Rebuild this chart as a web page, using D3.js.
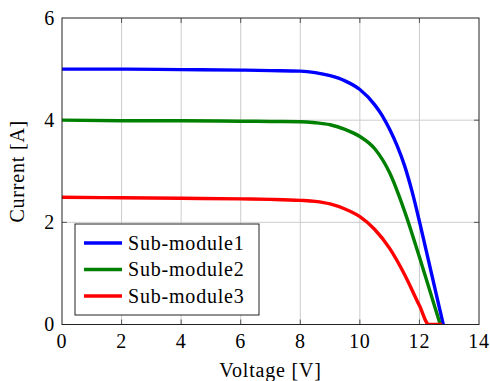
<!DOCTYPE html>
<html>
<head>
<meta charset="utf-8">
<script src="https://cdn.jsdelivr.net/npm/d3@7"></script>
<style>
  html, body { margin: 0; padding: 0; background: #fff; }
  svg { display: block; }
</style>
</head>
<body>
<svg id="chart" width="490" height="381"></svg>
<script>
// I-V curves of three sub-modules
const seriesNames = ["Sub-module1", "Sub-module2", "Sub-module3"];
const seriesColors = ["#0000ff", "#008000", "#ff0000"];

const voltage1 = [0, 2, 4, 6, 7, 8, 8.5, 9, 9.5, 10, 10.5, 10.75, 11, 11.25, 11.5, 11.75, 12, 12.4, 12.8];
const current1 = [5.00, 5.00, 4.99, 4.98, 4.97, 4.96, 4.93, 4.87, 4.77, 4.60, 4.30, 4.09, 3.82, 3.50, 3.11, 2.61, 2.02, 1.01, 0];

const voltage2 = [0, 2, 4, 6, 7, 8, 8.5, 9, 9.5, 10, 10.5, 11, 11.5, 12, 12.35, 12.7];
const current2 = [4.00, 3.99, 3.99, 3.98, 3.975, 3.97, 3.95, 3.91, 3.82, 3.68, 3.44, 2.97, 2.22, 1.32, 0.66, 0];

const voltage3 = [0, 2, 4, 6, 7, 8, 8.5, 9, 9.5, 10, 10.5, 11, 11.5, 12, 12.32, 12.76];
const current3 = [2.49, 2.48, 2.47, 2.46, 2.45, 2.43, 2.41, 2.36, 2.26, 2.11, 1.86, 1.49, 0.98, 0.37, 0, 0];

const xTicks = [0, 2, 4, 6, 8, 10, 12, 14];
const yTicks = [0, 2, 4, 6];

const series = [
  { name: seriesNames[0], color: seriesColors[0], v: voltage1, i: current1 },
  { name: seriesNames[1], color: seriesColors[1], v: voltage2, i: current2 },
  { name: seriesNames[2], color: seriesColors[2], v: voltage3, i: current3 }
];

const FONT = "'Liberation Serif', 'Times New Roman', Tinos, 'DejaVu Serif', serif";

const svg = d3.select("#chart")
  .attr("font-family", FONT)
  .style("font-family", FONT)
  .style("letter-spacing", "0.8px");
const margin = { left: 62, top: 18, right: 11, bottom: 56.5 };
const W = 490, H = 381;
const x = d3.scaleLinear().domain([0, 14]).range([margin.left, W - margin.right]);
const y = d3.scaleLinear().domain([0, 6]).range([H - margin.bottom, margin.top]);

const x0 = x.range()[0], x1 = x.range()[1];
const y0 = y.range()[0], y1 = y.range()[1];

// grid
const grid = svg.append("g");
grid.selectAll(".gx").data(xTicks.slice(1, -1)).join("line")
  .attr("x1", d => x(d)).attr("x2", d => x(d))
  .attr("y1", y1).attr("y2", y0)
  .attr("stroke", "#cccccc").attr("stroke-width", 1);
grid.selectAll(".gy").data(yTicks.slice(1, -1)).join("line")
  .attr("x1", x0).attr("x2", x1)
  .attr("y1", d => y(d)).attr("y2", d => y(d))
  .attr("stroke", "#cccccc").attr("stroke-width", 1);

// inward tick marks on all four sides
const tickLen = 5;
const ticks = svg.append("g").attr("stroke", "#555").attr("stroke-width", 1);
xTicks.slice(1, -1).forEach(d => {
  ticks.append("line").attr("x1", x(d)).attr("x2", x(d)).attr("y1", y0).attr("y2", y0 - tickLen);
  ticks.append("line").attr("x1", x(d)).attr("x2", x(d)).attr("y1", y1).attr("y2", y1 + tickLen);
});
yTicks.slice(1, -1).forEach(d => {
  ticks.append("line").attr("x1", x0).attr("x2", x0 + tickLen).attr("y1", y(d)).attr("y2", y(d));
  ticks.append("line").attr("x1", x1).attr("x2", x1 - tickLen).attr("y1", y(d)).attr("y2", y(d));
});

// curves
const line = d3.line().x(d => x(d[0])).y(d => y(d[1])).curve(d3.curveMonotoneX);
const clipId = "plotclip";
svg.append("clipPath").attr("id", clipId).append("rect")
  .attr("x", x0).attr("y", y1 - 2).attr("width", x1 - x0).attr("height", y0 - y1 + 2.5);
svg.append("g").attr("clip-path", `url(#${clipId})`)
  .selectAll("path").data(series).join("path")
  .attr("d", s => line(s.v.map((v, k) => [v, s.i[k]])))
  .attr("fill", "none")
  .attr("stroke", s => s.color)
  .attr("stroke-width", 3.4)
  .attr("stroke-linejoin", "round");

// frame
svg.append("rect").attr("x", x0).attr("y", y1).attr("width", x1 - x0).attr("height", y0 - y1)
  .attr("fill", "none").attr("stroke", "#222").attr("stroke-width", 1);

// tick labels
const fs = 20;
svg.append("g").selectAll("text").data(xTicks).join("text")
  .attr("x", d => x(d)).attr("y", y0 + 23)
  .attr("text-anchor", "middle").attr("font-size", fs).text(d => d);
svg.append("g").selectAll("text").data(yTicks).join("text")
  .attr("x", x0 - 7).attr("y", d => y(d) + 6.5)
  .attr("text-anchor", "end").attr("font-size", fs).text(d => d);

// axis titles
svg.append("text").attr("x", (x0 + x1) / 2).attr("y", 377)
  .attr("text-anchor", "middle").attr("font-size", fs).text("Voltage [V]");
svg.append("text")
  .attr("transform", `translate(24,${(y0 + y1) / 2}) rotate(-90)`)
  .attr("text-anchor", "middle").attr("font-size", fs).text("Current [A]");

// legend
const lg = svg.append("g");
lg.append("rect").attr("x", 75).attr("y", 224).attr("width", 184).attr("height", 91)
  .attr("fill", "#fff").attr("stroke", "#222").attr("stroke-width", 1);
series.forEach((s, k) => {
  const ly = 243 + k * 26.5;
  lg.append("line").attr("x1", 84).attr("x2", 122).attr("y1", ly).attr("y2", ly)
    .attr("stroke", s.color).attr("stroke-width", 3.4);
  lg.append("text").attr("x", 128).attr("y", ly + 6.5).attr("font-size", fs).text(s.name);
});
</script>
</body>
</html>
